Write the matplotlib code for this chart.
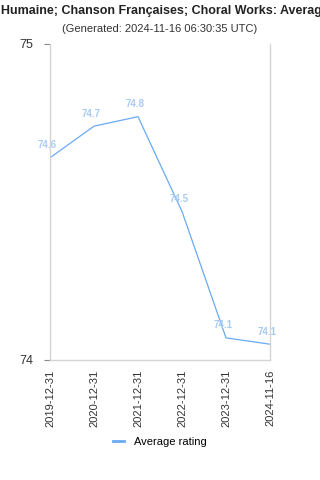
import matplotlib
matplotlib.use("Agg")
from matplotlib import pyplot as plt
from matplotlib.lines import Line2D

plt.rcParams["font.family"] = ["Liberation Sans", "DejaVu Sans"]

dates = ["2019-12-31", "2020-12-31", "2021-12-31", "2022-12-31", "2023-12-31", "2024-11-16"]
ratings = [74.64, 74.74, 74.77, 74.47, 74.07, 74.05]
labels = ["74.6", "74.7", "74.8", "74.5", "74.1", "74.1"]

TITLE = "La Condition Humaine; Chanson Françaises; Choral Works: Average rating"
SUBTITLE = "(Generated: 2024-11-16 06:30:35 UTC)"

LINE = "#6aaaf2"
LABEL = "#a9cbf3"
GRID = "#d4d4d4"


def main() -> None:
    fig = plt.figure(figsize=(3.2, 4.8), dpi=100)
    ax = fig.add_axes([50 / 320, 1 - 360 / 480, 220 / 320, 316 / 480])

    x = list(range(len(dates)))
    ax.plot(x, ratings, color=LINE, linewidth=0.9)
    for xi, yi, lab in zip(x, ratings, labels):
        ax.annotate(lab, (xi, yi), xytext=(-2, 9), textcoords="offset points",
                    ha="center", va="center", fontsize=7, color=LABEL,
                    fontweight="bold")

    ax.set_xlim(0, len(dates) - 1)
    ax.set_ylim(74, 75)
    ax.set_yticks([74, 75])
    ax.set_yticklabels(["74", "75"])
    ax.set_xticks(x)
    ax.set_xticklabels(dates, rotation=90)
    ax.tick_params(axis="y", length=4, color="#888888", labelsize=9, labelcolor="#333333", pad=8)
    ax.tick_params(axis="x", length=0, labelsize=8, labelcolor="#333333", pad=7)

    for side in ["left", "right", "bottom"]:
        ax.spines[side].set_color(GRID)
        ax.spines[side].set_linewidth(1)
    ax.spines["top"].set_visible(False)

    # the title is wider than the figure, so it is cut at both sides like the original
    fig.text(0.5 - 16 / 320, 1 - 11 / 480, TITLE, ha="center", va="center",
             fontsize=9, fontweight="bold", color="#222222")
    fig.text(0.5, 1 - 29 / 480, SUBTITLE, ha="center", va="center",
             fontsize=8, color="#333333")

    handle = Line2D([], [], color=LINE, linewidth=2)
    fig.legend([handle], ["Average rating"], loc="center",
               bbox_to_anchor=(0.5, 1 - 442 / 480), frameon=False,
               fontsize=8, handlelength=1.0, handletextpad=0.9)

    fig.savefig("out.png", dpi=100)


if __name__ == "__main__":
    main()
